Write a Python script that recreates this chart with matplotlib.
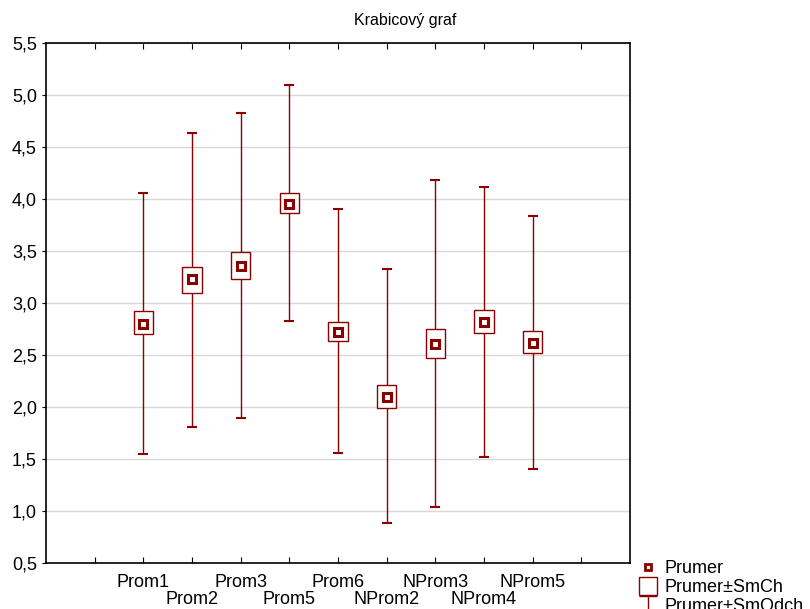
import numpy as np
import matplotlib.pyplot as plt
from matplotlib.lines import Line2D
from matplotlib.path import Path
from matplotlib.ticker import FuncFormatter, FixedLocator

plt.rcParams['font.family'] = ['Liberation Sans', 'DejaVu Sans']

names = ["Prom1", "Prom2", "Prom3", "Prom5", "Prom6", "NProm2", "NProm3", "NProm4", "NProm5"]
mean = [2.80, 3.23, 3.36, 3.95, 2.72, 2.10, 2.61, 2.82, 2.62]
se_lo = [2.70, 3.10, 3.23, 3.87, 2.63, 1.99, 2.47, 2.71, 2.52]
se_hi = [2.92, 3.35, 3.49, 4.06, 2.82, 2.21, 2.75, 2.93, 2.73]
sd_lo = [1.55, 1.81, 1.89, 2.83, 1.56, 0.88, 1.04, 1.52, 1.40]
sd_hi = [4.06, 4.63, 4.83, 5.10, 3.90, 3.33, 4.18, 4.12, 3.84]

col = '#8b0000'
x = np.arange(2, 2 + len(names))

fig = plt.figure(figsize=(8.1, 6.09), dpi=100)
ax = fig.add_axes([46/810, 1-563/609, 584/810, 520/609])

ax.vlines(x, sd_lo, sd_hi, color=col, lw=1, zorder=2)
ax.hlines(sd_lo, x-0.1, x+0.1, color=col, lw=1.5, zorder=2)
ax.hlines(sd_hi, x-0.1, x+0.1, color=col, lw=1.5, zorder=2)
ax.bar(x, np.array(se_hi)-np.array(se_lo), bottom=se_lo, width=0.4,
       facecolor='white', edgecolor=col, lw=1, zorder=3)
ax.plot(x, mean, 's', ms=6, mfc='white', mec=col, mew=2.2, zorder=4)

ax.set_xlim(0, 12)
ax.set_ylim(0.5, 5.5)
ax.set_yticks(np.arange(0.5, 5.51, 0.5))
ax.yaxis.set_major_formatter(FuncFormatter(lambda v, p: f"{v:.1f}".replace('.', ',')))

# tick marks at 1..11, first label row on major ticks, second row on minor ticks
ticks = np.arange(1, 12)
row1 = {xi: n for i, (xi, n) in enumerate(zip(x, names)) if i % 2 == 0}
ax.set_xticks(ticks)
ax.set_xticklabels([row1.get(t, "") for t in ticks])
ax.xaxis.remove_overlapping_locs = False
ax.xaxis.set_minor_locator(FixedLocator(x[1::2]))
ax.set_xticks(x[1::2], names[1::2], minor=True)
ax.tick_params(axis='x', which='major', direction='in', top=True, length=4, labelsize=13, pad=8)
ax.tick_params(axis='x', which='minor', length=0, labelsize=13, pad=20)
ax.tick_params(axis='y', direction='out', length=3, labelsize=13)
ax.grid(axis='y', color='#d8d8d8', lw=1, zorder=0)
ax.set_axisbelow(True)
for s in ax.spines.values():
    s.set_linewidth(1.2)

fig.text(0.5, 1-20/609, "Krabicový graf", ha='center', va='center', fontsize=11.5)

tee = Path([(-0.5, 0.5), (0.5, 0.5), (0, 0.5), (0, -0.5)],
           [Path.MOVETO, Path.LINETO, Path.MOVETO, Path.LINETO])
handles = [
    Line2D([], [], ls='none', marker='s', ms=5, mfc='white', mec=col, mew=2),
    Line2D([], [], ls='none', marker='s', ms=13, mfc='white', mec=col, mew=1),
    Line2D([], [], ls='none', marker=tee, ms=13, mec=col, mew=1),
]
fig.legend(handles, ["Prumer", "Prumer±SmCh", "Prumer±SmOdch"],
           loc='upper left', bbox_to_anchor=(630/810, 1-553/609), frameon=False,
           fontsize=13, handlelength=1.2, handletextpad=0.3, labelspacing=0.1,
           borderaxespad=0)

fig.savefig("out.png", dpi=100)
